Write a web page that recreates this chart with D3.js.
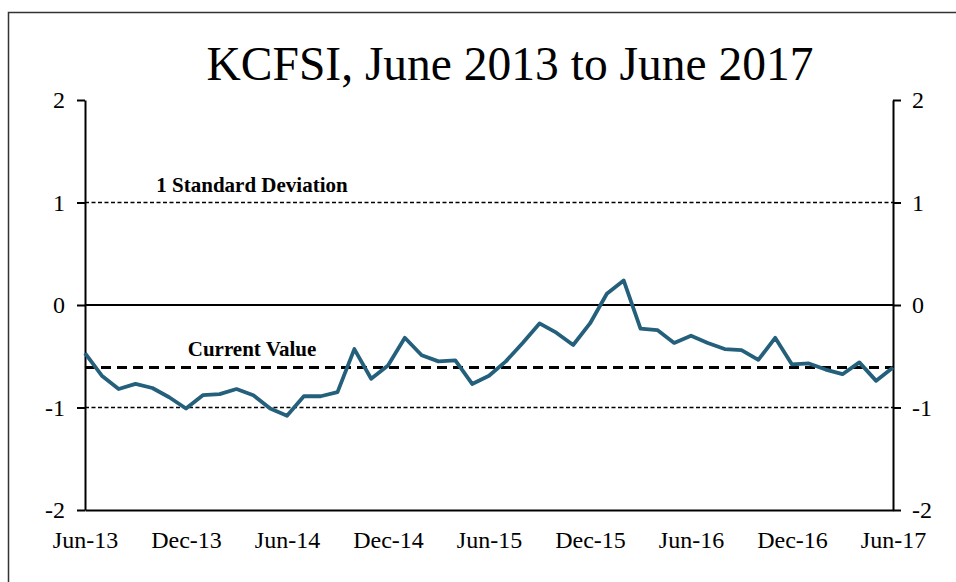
<!DOCTYPE html>
<html>
<head>
  <meta charset="utf-8">
  <title>KCFSI</title>
  <style>
    body,html{
      margin:0;
      padding:0;
      background:#fff;
    }
    svg text{
      font-family: "Liberation Serif", "Times New Roman", serif;
      fill:#000;
    }
  </style>
</head>
<body>
  <div id="container"></div>
  <script src="https://d3js.org/d3.v7.min.js"></script>
  <script>

    // monthly values, Jun-13 .. Jun-17
    var values = [
      -0.47, -0.69, -0.82, -0.77, -0.81, -0.90, -1.01, -0.88, -0.87, -0.82,
      -0.88, -1.01, -1.08, -0.89, -0.89, -0.85, -0.43, -0.72, -0.59, -0.32,
      -0.49, -0.55, -0.54, -0.77, -0.69, -0.55, -0.37, -0.18, -0.27, -0.39,
      -0.18, 0.11, 0.24, -0.23, -0.245, -0.37, -0.30, -0.37, -0.43, -0.44,
      -0.535, -0.32, -0.58, -0.57, -0.63, -0.675, -0.56, -0.74, -0.61
    ];
    var xTickIndex = [0, 6, 12, 18, 24, 30, 36, 42, 48];
    var xTickLabels = ['Jun-13','Dec-13','Jun-14','Dec-14','Jun-15','Dec-15','Jun-16','Dec-16','Jun-17'];
    var yTicks = [-2, -1, 0, 1, 2];
    var stdDev = [1, -1];
    var currentValue = -0.61;

    var width = 956, height = 582;
    var mLeft = 85, mRight = 893, mTop = 100, mBottom = 510;

    var svg = d3.select('#container').append('svg')
      .attr('width', width).attr('height', height);

    // outer frame
    svg.append('rect')
      .attr('x', 8.5).attr('y', 12.5)
      .attr('width', 980).attr('height', 600)
      .attr('fill', 'none')
      .attr('stroke', '#333')
      .attr('stroke-width', 1.5);

    var x = d3.scaleLinear().domain([0, values.length - 1]).range([mLeft, mRight]);
    var y = d3.scaleLinear().domain([-2, 2]).range([mBottom, mTop]);

    svg.append('text')
      .attr('x', 510).attr('y', 80)
      .attr('text-anchor', 'middle')
      .style('font-size', '47.5px')
      .text('KCFSI, June 2013 to June 2017');

    // 1 std dev lines
    svg.append('g').selectAll('line').data(stdDev).enter().append('line')
      .attr('x1', mLeft).attr('x2', mRight)
      .attr('y1', function(d){ return y(d); })
      .attr('y2', function(d){ return y(d); })
      .attr('stroke', '#000')
      .attr('stroke-width', 1.4)
      .attr('stroke-dasharray', '4,2.5');

    // zero line
    svg.append('line')
      .attr('x1', mLeft).attr('x2', mRight)
      .attr('y1', y(0)).attr('y2', y(0))
      .attr('stroke', '#000').attr('stroke-width', 2);

    // current value
    svg.append('line')
      .attr('x1', mLeft).attr('x2', mRight)
      .attr('y1', y(currentValue)).attr('y2', y(currentValue))
      .attr('stroke', '#000').attr('stroke-width', 3)
      .attr('stroke-dasharray', '10,6');

    svg.append('text')
      .attr('x', 252).attr('y', y(1) - 11)
      .attr('text-anchor', 'middle')
      .style('font-size', '21px').style('font-weight', 'bold')
      .text('1 Standard Deviation');

    svg.append('text')
      .attr('x', 252).attr('y', y(currentValue) - 12)
      .attr('text-anchor', 'middle')
      .style('font-size', '21px').style('font-weight', 'bold')
      .text('Current Value');

    // axes
    var fmt = function(d){ return String(d); };

    var yl = svg.append('g').attr('transform', 'translate(' + mLeft + ',0)')
      .call(d3.axisLeft(y).tickValues(yTicks).tickFormat(fmt).tickSize(8).tickPadding(12).tickSizeOuter(0));
    var yr = svg.append('g').attr('transform', 'translate(' + mRight + ',0)')
      .call(d3.axisRight(y).tickValues(yTicks).tickFormat(fmt).tickSize(8).tickPadding(11).tickSizeOuter(0));
    var xa = svg.append('g').attr('transform', 'translate(0,' + mBottom + ')')
      .call(d3.axisBottom(x).tickValues(xTickIndex)
        .tickFormat(function(d, i){ return xTickLabels[i]; })
        .tickSize(0).tickPadding(21).tickSizeOuter(0));

    [yl, yr, xa].forEach(function(g){
      g.select('.domain').attr('stroke', '#000').attr('stroke-width', 2);
      g.selectAll('.tick line').attr('stroke', '#000').attr('stroke-width', 2);
      g.selectAll('text')
        .style('font-family', '"Liberation Serif", "Times New Roman", serif')
        .style('font-size', '24px')
        .attr('fill', '#000');
    });

    // series
    var line = d3.line()
      .x(function(d, i){ return x(i); })
      .y(function(d){ return y(d); });

    svg.append('path')
      .datum(values)
      .attr('d', line)
      .attr('fill', 'none')
      .attr('stroke', '#24607c')
      .attr('stroke-width', 3.8)
      .attr('stroke-linejoin', 'round');

  </script>
</body>
</html>
